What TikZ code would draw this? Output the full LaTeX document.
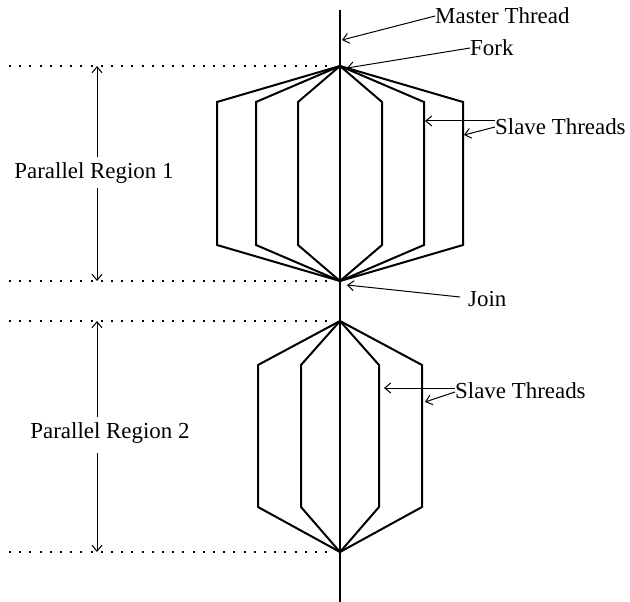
\documentclass[tikz,border=0pt]{standalone}
\usepackage{fontspec}
\setmainfont{Liberation Serif}
\usetikzlibrary{arrows.meta,calc}
\begin{document}
\begin{tikzpicture}[x=1bp,y=-1bp,
  thread/.style={line width=2bp,line join=miter},
  guide/.style={line width=2bp,dash pattern=on 2bp off 8.2bp},
  pointer/.style={line width=1bp,-{Straight Barb[length=6bp,width=10bp]}},
  lbl/.style={font=\fontsize{23}{27}\selectfont,inner sep=0pt}]
\useasboundingbox (0,0) rectangle (630,602);

% master thread
\coordinate (mtop) at (340,10);
\coordinate (mbot) at (340,602);
\draw[thread] (mtop) -- (mbot);

% fork/join points
\coordinate (f1) at (340,66);
\coordinate (j1) at (340,281);
\coordinate (f2) at (340,321);
\coordinate (j2) at (340,552);

% region 1 slave threads
\foreach \dx in {123,84,42} {
  \draw[thread] (f1) -- ($(f1)+(-\dx,36)$) -- ($(j1)+(-\dx,-36)$) -- (j1);
  \draw[thread] (f1) -- ($(f1)+(\dx,36)$) -- ($(j1)+(\dx,-36)$) -- (j1);
}
% region 2 slave threads
\foreach \dx in {82,39} {
  \draw[thread] (f2) -- ($(f2)+(-\dx,44)$) -- ($(j2)+(-\dx,-45)$) -- (j2);
  \draw[thread] (f2) -- ($(f2)+(\dx,44)$) -- ($(j2)+(\dx,-45)$) -- (j2);
}

% dotted guides
\foreach \p/\n in {f1/g1,j1/g2,f2/g3,j2/g4} {
  \coordinate (\n) at (9,0 |- \p);
  \draw[guide] (\n) -- ($(\p)+(-12,0)$);
}

% region extents
\node[lbl] (pr1) at (94,173) {Parallel Region 1};
\coordinate (a1t) at (97,66);
\coordinate (a1b) at (97,281);
\draw[pointer] (97,157) -- (a1t);
\draw[pointer] (97,188) -- (a1b);

\node[lbl] (pr2) at (110,433) {Parallel Region 2};
\coordinate (a2t) at (97,321);
\coordinate (a2b) at (97,552);
\draw[pointer] (97,417) -- (a2t);
\draw[pointer] (97,453) -- (a2b);

% annotations
\node[lbl,anchor=west] (mt) at (435,16) {Master Thread};
\coordinate (mtp) at (342,40);
\draw[pointer] (mt.west) -- (mtp);

\node[lbl,anchor=west] (fk) at (470,48) {Fork};
\coordinate (fkp) at (347,68);
\draw[pointer] (fk.west) -- (fkp);

\node[lbl,anchor=west] (st1) at (495,127) {Slave Threads};
\coordinate (s1a) at (425,121);
\coordinate (s1b) at (464,135);
\draw[pointer] ($(st1.west)+(0,-6)$) -- (s1a);
\draw[pointer] ($(st1.west)+(0,0)$) -- (s1b);

\node[lbl,anchor=west] (jn) at (468,299) {Join};
\coordinate (jnp) at (347,285);
\draw[pointer] ($(jn.west)+(-8,-2)$) -- (jnp);

\node[lbl,anchor=west] (st2) at (455,391) {Slave Threads};
\coordinate (s2a) at (384,388);
\coordinate (s2b) at (425,402);
\draw[pointer] ($(st2.west)+(0,-3)$) -- (s2a);
\draw[pointer] ($(st2.west)+(0,1)$) -- (s2b);
\end{tikzpicture}
\end{document}
